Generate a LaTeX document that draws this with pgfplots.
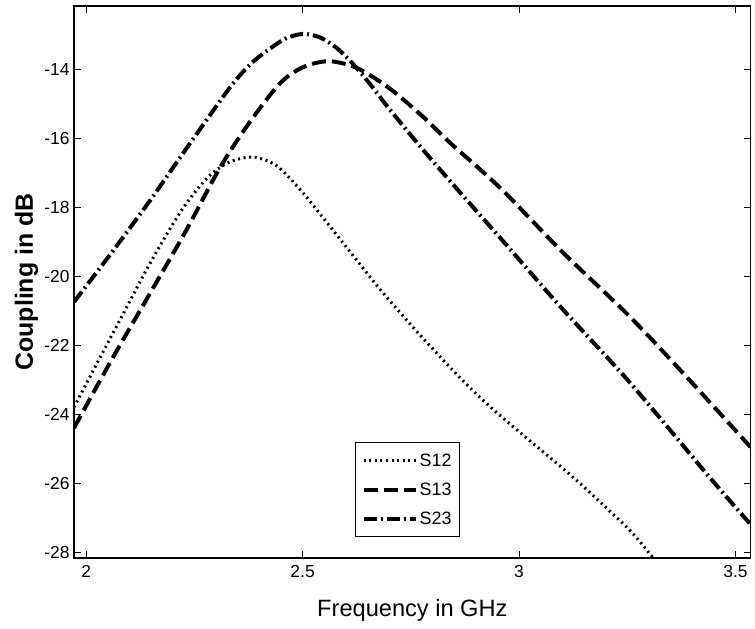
\documentclass[border=0pt]{standalone}
\usepackage{fontspec}
\setmainfont{Liberation Sans}
\usepackage{pgfplots}
\pgfplotsset{compat=1.18}
\begin{document}
\begin{tikzpicture}
\begin{axis}[
  scale only axis,
  width=676.7bp, height=552bp,
  xmin=1.972, xmax=3.535,
  ymin=-28.17, ymax=-12.17,
  xtick={2,2.5,3,3.5},
  xticklabels={2,2.5,3,3.5},
  ytick={-28,-26,-24,-22,-20,-18,-16,-14},
  yticklabels={-28,-26,-24,-22,-20,-18,-16,-14},
  /pgf/number format/assume math mode=true,
  tick align=inside,
  major tick length=7bp,
  tick style={black, line width=1bp},
  axis line style={black, line width=1.3bp},
  ticklabel style={font=\fontsize{17.5}{20}\selectfont},
  xticklabel style={yshift=-4bp},
  yticklabel style={xshift=-1bp},
  xlabel={Frequency in GHz},
  ylabel={\bfseries Coupling in dB},
  xlabel style={at={(axis description cs:0.5,-0.1051)}, anchor=base, font=\fontsize{23.7}{28}\selectfont},
  ylabel style={at={(axis description cs:-0.0606,0.5)}, anchor=base, font=\fontsize{25}{30}\selectfont},
  legend style={at={(axis description cs:0.493,0.038)}, anchor=south,
    draw=black, line width=1bp, font=\fontsize{18}{21}\selectfont,
    inner xsep=6bp, inner ysep=9bp, row sep=11bp,
    nodes={inner sep=2bp, text height=13bp, text depth=1bp}},
  legend cell align=left,
  legend image code/.code={\draw[#1] (0bp,0bp) -- (52bp,0bp);},
]
\addplot[black, line width=3bp, dash pattern=on 2bp off 3.6bp, smooth] coordinates {
(1.972,-23.8) (2.06,-21.7) (2.148,-19.62) (2.22,-18.1) (2.28,-17.15) (2.33,-16.7)
(2.386,-16.55) (2.44,-16.8) (2.495,-17.5) (2.55,-18.35) (2.61,-19.3) (2.68,-20.4)
(2.76,-21.55) (2.841,-22.65) (2.90,-23.4) (2.957,-24.05) (3.02,-24.72) (3.08,-25.35)
(3.14,-26.0) (3.20,-26.7) (3.26,-27.42) (3.31,-28.17) (3.34,-28.6)
};
\addlegendentry{S12}
\addplot[black, line width=4bp, dash pattern=on 14bp off 6bp, smooth] coordinates {
(1.972,-24.4) (2.06,-22.4) (2.148,-20.49) (2.23,-18.7) (2.31,-16.84) (2.38,-15.5)
(2.448,-14.41) (2.50,-13.95) (2.56,-13.77) (2.626,-13.97) (2.70,-14.55) (2.779,-15.39)
(2.841,-16.14) (2.957,-17.45) (3.10,-19.3) (3.257,-21.19) (3.40,-23.1) (3.535,-24.96)
};
\addlegendentry{S13}
\addplot[black, line width=4bp, dash pattern=on 13bp off 4bp on 2bp off 4bp, smooth] coordinates {
(1.972,-20.75) (2.06,-19.3) (2.148,-17.8) (2.24,-16.15) (2.333,-14.52) (2.38,-13.85)
(2.42,-13.45) (2.46,-13.12) (2.50,-12.98) (2.54,-13.08) (2.58,-13.4) (2.62,-13.9)
(2.66,-14.5) (2.70,-15.15) (2.779,-16.35) (2.841,-17.25) (2.957,-18.9) (3.10,-20.95)
(3.257,-23.1) (3.442,-25.86) (3.535,-27.2)
};
\addlegendentry{S23}
\end{axis}
\pgfresetboundingbox
\path[use as bounding box] (current axis.south west) ++(-74bp,-71bp) rectangle ([shift={(4.3bp,6bp)}]current axis.north east);
\end{tikzpicture}
\end{document}
